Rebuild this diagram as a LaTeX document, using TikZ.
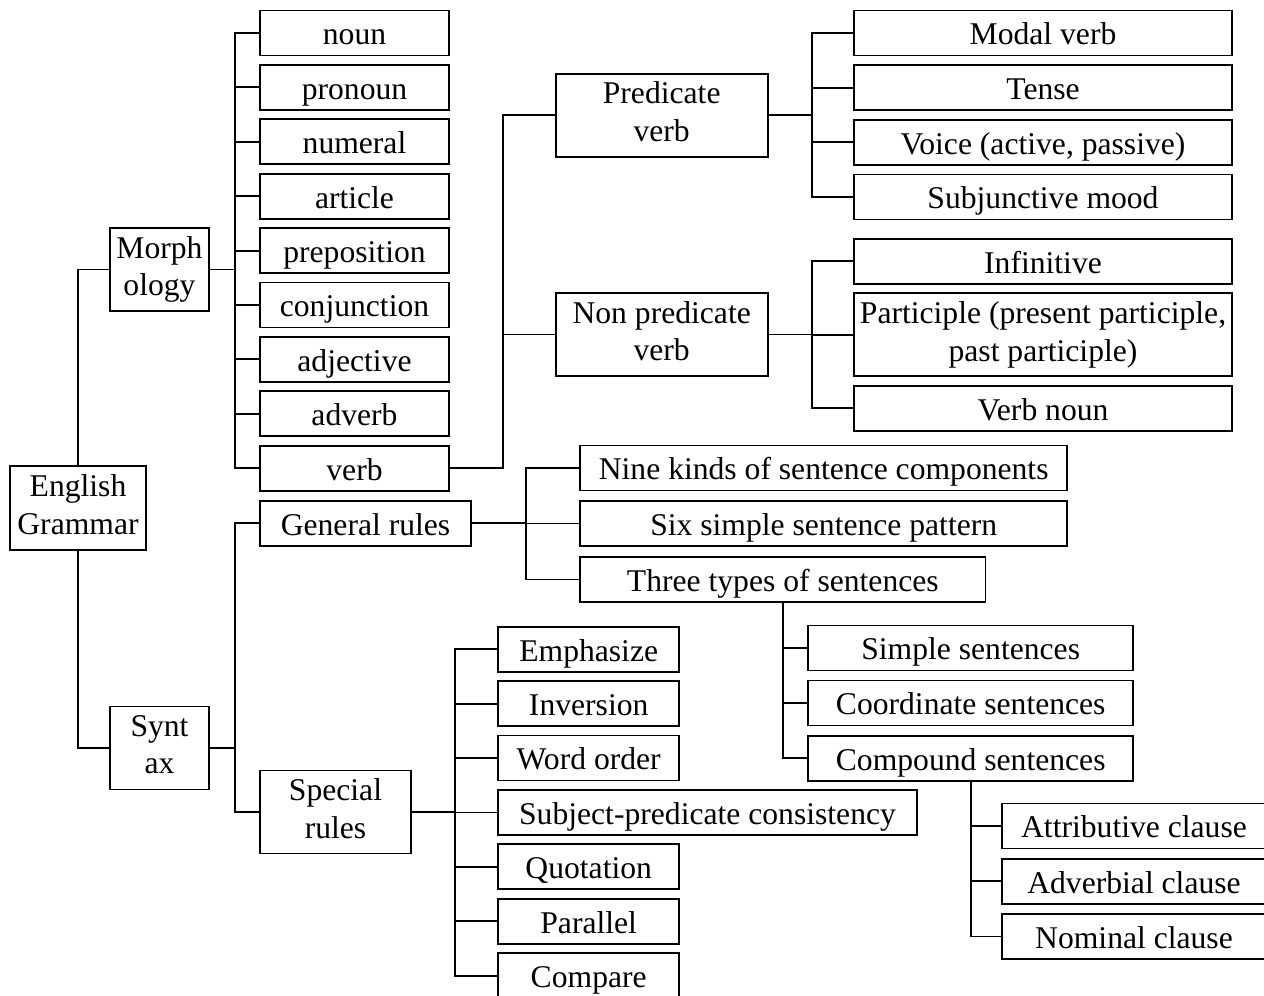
\documentclass[tikz,border=0pt]{standalone}
\usepackage{fontspec}
\setmainfont{Liberation Serif}
\usepackage{tikz}
\usetikzlibrary{positioning}
\newcommand{\boxstrut}{\rule[-4pt]{0pt}{21.5pt}}
\tikzset{
  box/.style={draw,rectangle,line width=1.1pt,inner sep=0pt,align=center,
    font=\fontsize{18}{21.5}\selectfont,
    execute at begin node=\boxstrut,execute at end node=\boxstrut},
  link/.style={line width=1.1pt},
}

\begin{document}
\begin{tikzpicture}[x=0.02cm, y=-0.02cm]
  \useasboundingbox (0,0) rectangle (1264,995);
  \clip (0,0) rectangle (1264,995);

  % Root and first level
  \node[box,minimum width=2.72cm,minimum height=1.68cm] (eg) at (78,508) {English\\Grammar};
  \node[box,minimum width=1.98cm,minimum height=1.66cm] (morph) at (159.5,269.5) {Morph\\ology};
  \node[box,minimum width=1.98cm,minimum height=1.66cm] (syn) at (159.5,748) {Synt\\ax};

  % Parts of speech
  \node[box,minimum width=3.78cm,minimum height=0.9cm] (noun) at (354.5,33) {noun};
  \node[box,minimum width=3.78cm,minimum height=0.9cm] (pronoun) at (354.5,87.4) {pronoun};
  \node[box,minimum width=3.78cm,minimum height=0.9cm] (numeral) at (354.5,141.8) {numeral};
  \node[box,minimum width=3.78cm,minimum height=0.9cm] (article) at (354.5,196.2) {article};
  \node[box,minimum width=3.78cm,minimum height=0.9cm] (prep) at (354.5,250.6) {preposition};
  \node[box,minimum width=3.78cm,minimum height=0.9cm] (conj) at (354.5,305) {conjunction};
  \node[box,minimum width=3.78cm,minimum height=0.9cm] (adj) at (354.5,359.4) {adjective};
  \node[box,minimum width=3.78cm,minimum height=0.9cm] (adv) at (354.5,413.8) {adverb};
  \node[box,minimum width=3.78cm,minimum height=0.9cm] (verb) at (354.5,468.2) {verb};

  % Verb branches
  \node[box,minimum width=4.24cm,minimum height=1.66cm] (pred) at (661.7,115.2) {Predicate\\verb};
  \node[box,minimum width=4.24cm,minimum height=1.66cm] (nonpred) at (661.7,334.5) {Non predicate\\verb};

  \node[box,minimum width=7.56cm,minimum height=0.9cm] (modal) at (1043,33) {Modal verb};
  \node[box,minimum width=7.56cm,minimum height=0.9cm] (tense) at (1043,87.7) {Tense};
  \node[box,minimum width=7.56cm,minimum height=0.9cm] (voice) at (1043,142.3) {Voice (active, passive)};
  \node[box,minimum width=7.56cm,minimum height=0.9cm] (subj) at (1043,197) {Subjunctive mood};

  \node[box,minimum width=7.56cm,minimum height=0.9cm] (inf) at (1043,261.3) {Infinitive};
  \node[box,minimum width=7.56cm,minimum height=1.66cm] (part) at (1043,334.7) {Participle (present participle,\\past participle)};
  \node[box,minimum width=7.56cm,minimum height=0.9cm] (vnoun) at (1043,408.3) {Verb noun};

  % Syntax rules
  \node[box,minimum width=4.22cm,minimum height=0.9cm] (gen) at (365.5,523.3) {General rules};
  \node[box,minimum width=3.02cm,minimum height=1.66cm] (spec) at (335.5,812) {Special\\rules};

  \node[box,minimum width=9.75cm,minimum height=0.9cm] (nine) at (823.7,468) {Nine kinds of sentence components};
  \node[box,minimum width=9.75cm,minimum height=0.9cm] (six) at (823.7,523.5) {Six simple sentence pattern};
  \node[box,minimum width=8.11cm,minimum height=0.9cm] (three) at (782.8,579.5) {Three types of sentences};

  \node[box,minimum width=6.51cm,minimum height=0.9cm] (simple) at (970.7,648) {Simple sentences};
  \node[box,minimum width=6.51cm,minimum height=0.9cm] (coord) at (970.7,703) {Coordinate sentences};
  \node[box,minimum width=6.51cm,minimum height=0.9cm] (compound) at (970.7,758.3) {Compound sentences};

  \node[box,minimum width=5.28cm,minimum height=0.9cm] (attr) at (1134,826) {Attributive clause};
  \node[box,minimum width=5.28cm,minimum height=0.9cm] (advcl) at (1134,881.2) {Adverbial clause};
  \node[box,minimum width=5.28cm,minimum height=0.9cm] (nomcl) at (1134,936.5) {Nominal clause};

  \node[box,minimum width=3.63cm,minimum height=0.9cm] (emph) at (588.7,649.2) {Emphasize};
  \node[box,minimum width=3.63cm,minimum height=0.9cm] (inv) at (588.7,703.7) {Inversion};
  \node[box,minimum width=3.63cm,minimum height=0.9cm] (order) at (588.7,758) {Word order};
  \node[box,minimum width=8.38cm,minimum height=0.9cm] (agree) at (707.5,812.5) {Subject-predicate consistency};
  \node[box,minimum width=3.63cm,minimum height=0.9cm] (quote) at (588.7,866.8) {Quotation};
  \node[box,minimum width=3.63cm,minimum height=0.9cm] (para) at (588.7,921.3) {Parallel};
  \node[box,minimum width=3.63cm,minimum height=0.9cm] (comp) at (588.7,975.6) {Compare};

  % Connectors
  \draw[link] (eg.north) |- (morph.west);
  \draw[link] (eg.south) |- (syn.west);

  \draw[link] (morph.east) -- ++(25,0) |- (noun.west);
  \draw[link] (morph.east) -- ++(25,0) |- (pronoun.west);
  \draw[link] (morph.east) -- ++(25,0) |- (numeral.west);
  \draw[link] (morph.east) -- ++(25,0) |- (article.west);
  \draw[link] (morph.east) -- ++(25,0) |- (prep.west);
  \draw[link] (morph.east) -- ++(25,0) |- (conj.west);
  \draw[link] (morph.east) -- ++(25,0) |- (adj.west);
  \draw[link] (morph.east) -- ++(25,0) |- (adv.west);
  \draw[link] (morph.east) -- ++(25,0) |- (verb.west);

  \draw[link] (verb.east) -- ++(53,0) |- (pred.west);
  \draw[link] (verb.east) -- ++(53,0) |- (nonpred.west);

  \draw[link] (pred.east) -- ++(43,0) |- (modal.west);
  \draw[link] (pred.east) -- ++(43,0) |- (tense.west);
  \draw[link] (pred.east) -- ++(43,0) |- (voice.west);
  \draw[link] (pred.east) -- ++(43,0) |- (subj.west);

  \draw[link] (nonpred.east) -- ++(43,0) |- (inf.west);
  \draw[link] (nonpred.east) -- ++(43,0) |- (part.west);
  \draw[link] (nonpred.east) -- ++(43,0) |- (vnoun.west);

  \draw[link] (syn.east) -- ++(25,0) |- (gen.west);
  \draw[link] (syn.east) -- ++(25,0) |- (spec.west);

  \draw[link] (gen.east) -- ++(54.5,0) |- (nine.west);
  \draw[link] (gen.east) -- ++(54.5,0) |- (six.west);
  \draw[link] (gen.east) -- ++(54.5,0) |- (three.west);

  \draw[link] (three.south) |- (simple.west);
  \draw[link] (three.south) |- (coord.west);
  \draw[link] (three.south) |- (compound.west);

  \draw[link] (compound.south) |- (attr.west);
  \draw[link] (compound.south) |- (advcl.west);
  \draw[link] (compound.south) |- (nomcl.west);

  \draw[link] (spec.east) -- ++(43.5,0) |- (emph.west);
  \draw[link] (spec.east) -- ++(43.5,0) |- (inv.west);
  \draw[link] (spec.east) -- ++(43.5,0) |- (order.west);
  \draw[link] (spec.east) -- ++(43.5,0) |- (agree.west);
  \draw[link] (spec.east) -- ++(43.5,0) |- (quote.west);
  \draw[link] (spec.east) -- ++(43.5,0) |- (para.west);
  \draw[link] (spec.east) -- ++(43.5,0) |- (comp.west);
\end{tikzpicture}
\end{document}
